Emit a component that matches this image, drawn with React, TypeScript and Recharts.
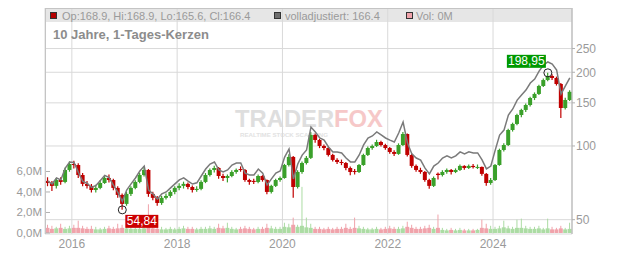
import React from 'react';
import { ComposedChart, Bar, Line, XAxis, YAxis, CartesianGrid, ReferenceDot } from 'recharts';

// Monthly candles, Jul 2015 .. Jun 2025
const startYear = 2015;
const startMonth = 7;

const opens = [
  72.0, 70.6, 68.7, 72.6, 71.3, 79.8,
  84.4, 83.6, 76.1, 70.0, 68.7, 66.1, 67.4, 70.6, 74.0, 72.6, 67.4, 63.1,
  58.0, 63.7, 67.4, 71.3, 76.1, 79.8, 63.7, 61.4, 58.5, 61.4, 62.5, 64.9,
  67.4, 68.7, 70.0, 68.0, 66.1, 66.8, 71.3, 76.1, 79.8, 81.3, 75.4, 74.0,
  75.4, 78.3, 80.5, 79.8, 72.6, 72.0, 71.3, 75.4, 72.6, 64.9, 68.7, 72.6,
  74.0, 83.6, 90.2, 68.0, 78.3, 85.2, 89.4, 110.9, 105.8, 100.0, 98.1, 91.9,
  87.7, 86.0, 85.2, 81.3, 79.0, 78.3, 83.6, 91.9, 98.1, 100.0, 103.8, 100.9,
  98.1, 94.5, 92.8, 100.9, 111.9, 91.9, 82.9, 79.8, 78.3, 72.6, 68.7, 77.0,
  76.1, 78.3, 79.8, 78.3, 79.8, 82.9, 81.3, 82.9, 82.0, 82.1, 76.9, 70.6,
  72.6, 83.6, 96.3, 100.9, 116.2, 123.0, 133.8, 140.3, 147.0, 157.0, 163.1, 175.8,
  185.9, 193.1, 189.5, 179.1, 142.9, 154.1,
];
const highs = [
  74.5, 72.0, 74.0, 74.5, 81.5, 86.5,
  87.0, 85.0, 77.5, 72.0, 70.0, 69.5, 72.5, 76.0, 76.5, 73.5, 68.5, 64.0,
  65.0, 68.5, 72.5, 77.5, 82.9, 80.5, 65.0, 62.5, 62.5, 64.0, 66.0, 68.5,
  70.5, 71.5, 71.0, 69.0, 68.5, 72.5, 77.5, 81.0, 83.0, 82.0, 77.0, 76.5,
  79.5, 81.0, 82.5, 80.5, 73.5, 73.5, 76.5, 76.0, 73.0, 69.5, 73.5, 75.0,
  84.5, 92.5, 91.0, 79.5, 86.5, 91.0, 114.1, 112.5, 107.0, 101.5, 99.0, 93.0,
  89.0, 88.0, 86.0, 82.5, 80.5, 84.5, 93.0, 99.5, 101.5, 106.0, 105.0, 102.0,
  99.0, 96.0, 102.5, 114.0, 112.5, 93.0, 84.0, 81.5, 79.0, 73.5, 75.0, 78.0,
  79.5, 81.0, 80.5, 81.0, 84.0, 83.5, 84.0, 84.5, 84.0, 82.5, 77.5, 74.0,
  84.5, 97.5, 102.5, 117.5, 124.5, 135.5, 142.0, 149.0, 159.0, 165.5, 178.0, 188.5,
  198.95, 196.5, 192.0, 181.0, 157.5, 168.9,
];
const lows = [
  68.5, 65.5, 67.0, 69.5, 70.5, 78.5,
  81.0, 74.0, 68.5, 67.0, 64.5, 64.5, 66.5, 70.0, 71.0, 66.0, 61.5, 54.84,
  57.0, 62.5, 66.5, 70.5, 75.0, 62.0, 60.0, 57.0, 57.5, 60.5, 61.5, 63.5,
  66.0, 67.0, 66.5, 64.5, 65.0, 66.0, 70.5, 75.0, 78.0, 73.5, 72.0, 71.0,
  74.5, 77.0, 78.5, 71.5, 69.5, 70.0, 70.5, 71.5, 63.5, 64.0, 68.0, 71.5,
  73.5, 82.5, 61.4, 67.0, 77.0, 84.0, 88.5, 103.0, 98.0, 96.0, 90.5, 86.5,
  84.5, 83.5, 79.5, 76.0, 76.5, 77.5, 83.0, 91.0, 96.5, 99.0, 99.5, 96.5,
  93.0, 91.0, 92.0, 100.0, 90.5, 81.5, 78.5, 77.0, 71.5, 66.8, 68.0, 73.0,
  75.0, 77.0, 76.5, 77.5, 79.0, 80.0, 80.5, 81.0, 80.5, 75.5, 68.8, 69.5,
  72.0, 83.0, 95.0, 100.0, 114.5, 121.5, 131.0, 137.5, 145.0, 154.0, 161.5, 174.0,
  184.0, 186.0, 176.5, 130.1, 141.0, 152.5,
];
const closes = [
  70.6, 68.7, 72.6, 71.3, 79.8, 84.4,
  83.6, 76.1, 70.0, 68.7, 66.1, 67.4, 70.6, 74.0, 72.6, 67.4, 63.1, 58.0,
  63.7, 67.4, 71.3, 76.1, 79.8, 63.7, 61.4, 58.5, 61.4, 62.5, 64.9, 67.4,
  68.7, 70.0, 68.0, 66.1, 66.8, 71.3, 76.1, 79.8, 81.3, 75.4, 74.0, 75.4,
  78.3, 79.8, 79.8, 72.6, 71.3, 71.3, 75.4, 72.6, 64.9, 68.7, 72.6, 74.0,
  83.6, 90.2, 68.0, 78.3, 85.2, 89.4, 110.9, 105.8, 100.0, 98.1, 91.9, 87.7,
  86.0, 85.2, 81.3, 78.3, 78.3, 83.6, 91.9, 98.1, 100.0, 103.8, 100.9, 98.1,
  94.5, 92.8, 100.9, 111.9, 91.9, 82.9, 79.8, 78.3, 72.6, 68.7, 74.0, 76.1,
  78.3, 79.8, 78.3, 79.8, 82.9, 81.3, 82.9, 82.0, 82.1, 76.9, 70.6, 72.6,
  83.6, 96.3, 100.9, 116.2, 123.0, 133.8, 140.3, 147.0, 157.0, 163.1, 175.8, 185.9,
  193.1, 189.5, 179.1, 142.9, 154.1, 166.4,
];
const adjusted = [
  71.9, 70.0, 74.0, 72.7, 81.3, 86.0,
  85.6, 77.9, 71.7, 70.3, 67.7, 69.0, 72.3, 75.8, 74.3, 69.0, 64.6, 59.4,
  66.1, 70.0, 74.0, 79.0, 82.8, 66.1, 63.7, 60.7, 63.7, 64.9, 67.4, 70.0,
  72.7, 74.1, 71.9, 69.9, 70.7, 75.4, 80.5, 84.4, 86.0, 79.8, 78.3, 79.8,
  83.6, 85.2, 85.2, 77.5, 76.1, 76.1, 80.5, 77.5, 69.3, 73.4, 77.5, 79.0,
  90.1, 97.2, 73.3, 84.4, 91.8, 96.4, 119.5, 114.1, 107.8, 105.8, 99.1, 94.5,
  94.5, 93.6, 89.3, 86.1, 86.1, 91.9, 101.0, 107.8, 109.9, 114.1, 110.9, 107.8,
  105.7, 103.8, 112.9, 125.2, 102.8, 92.8, 89.3, 87.6, 81.2, 76.9, 82.8, 85.2,
  89.3, 91.1, 89.3, 91.1, 94.6, 92.8, 94.6, 93.6, 93.7, 87.7, 80.6, 82.8,
  96.2, 110.8, 116.1, 133.7, 141.6, 154.0, 161.5, 169.2, 180.7, 187.7, 202.3, 214.0,
  220.3, 216.2, 204.4, 163.1, 175.8, 189.9,
];
// volume in millions: highest day of the month and typical day
const volMax = [
  0.8, 0.7, 0.6, 0.9, 0.6, 0.7,
  0.8, 1.2, 0.7, 0.6, 0.7, 0.6, 0.5, 0.6, 0.7, 0.6, 0.9, 0.8,
  0.7, 0.6, 0.6, 0.6, 0.7, 2.8, 0.7, 0.6, 0.6, 0.5, 0.6, 0.5,
  0.6, 0.7, 0.6, 0.6, 0.5, 0.6, 0.6, 0.7, 0.6, 0.9, 0.7, 1.0,
  0.6, 0.5, 0.6, 0.7, 0.6, 0.5, 0.6, 0.6, 0.9, 0.7, 0.6, 0.6,
  1.0, 0.9, 1.5, 0.8, 4.5, 1.5, 0.9, 0.6, 0.6, 0.5, 0.6, 0.5,
  0.6, 0.6, 0.9, 0.6, 1.5, 0.7, 0.6, 0.5, 0.5, 0.6, 0.5, 0.6,
  0.7, 0.6, 0.6, 0.7, 1.1, 0.8, 0.6, 0.6, 0.7, 0.8, 0.6, 1.8,
  0.5, 0.4, 0.5, 0.4, 0.5, 0.4, 0.4, 0.4, 0.4, 1.3, 0.9, 0.7,
  0.6, 0.7, 1.2, 0.7, 0.6, 1.3, 1.4, 0.7, 0.6, 0.6, 0.7, 0.5,
  1.4, 0.6, 0.5, 0.7, 0.5, 1.0,
];
const volBase = [
  0.5, 0.4, 0.45, 0.5, 0.4, 0.45,
  0.5, 0.5, 0.45, 0.4, 0.4, 0.35, 0.35, 0.4, 0.45, 0.4, 0.45, 0.5,
  0.45, 0.4, 0.4, 0.4, 0.45, 0.6, 0.45, 0.4, 0.35, 0.35, 0.4, 0.35,
  0.4, 0.45, 0.4, 0.4, 0.35, 0.4, 0.4, 0.45, 0.4, 0.5, 0.45, 0.5,
  0.4, 0.35, 0.4, 0.45, 0.4, 0.35, 0.4, 0.4, 0.5, 0.45, 0.4, 0.4,
  0.6, 0.55, 0.8, 0.6, 0.7, 0.55, 0.5, 0.4, 0.4, 0.35, 0.4, 0.35,
  0.4, 0.4, 0.5, 0.4, 0.5, 0.45, 0.4, 0.35, 0.35, 0.4, 0.35, 0.4,
  0.45, 0.4, 0.4, 0.45, 0.6, 0.5, 0.4, 0.4, 0.45, 0.5, 0.4, 0.5,
  0.3, 0.25, 0.3, 0.25, 0.3, 0.25, 0.25, 0.25, 0.3, 0.5, 0.45, 0.4,
  0.4, 0.45, 0.55, 0.45, 0.4, 0.5, 0.5, 0.45, 0.4, 0.4, 0.45, 0.35,
  0.45, 0.35, 0.35, 0.45, 0.35, 0.4,
];

const xTicks = [2016, 2018, 2020, 2022, 2024];
const priceTicks = [50, 100, 150, 200, 250];
const volTicks = [0, 2, 4, 6];

const RED = '#c00000';
const GREEN = '#3aa02a';
const VRED = '#f0a3ab';
const VGREEN = '#acdca4';

const data = closes.map((c, i) => ({
  t: startYear + (startMonth - 1 + i + 0.5) / 12,
  o: opens[i],
  h: highs[i],
  l: lows[i],
  c,
  adj: adjusted[i],
  range: [lows[i], highs[i]],
  vmax: volMax[i],
  vbase: volBase[i],
  up: c >= opens[i],
}));

let minIdx = 0;
let maxIdx = 0;
lows.forEach((v, i) => { if (v < lows[minIdx]) minIdx = i; });
highs.forEach((v, i) => { if (v > highs[maxIdx]) maxIdx = i; });
const fmtNum = (v: number) => v.toFixed(2).replace('.', ',');

const Candle = (props: any) => {
  const { x, y, width, height, payload } = props;
  if (!payload || height == null || isNaN(y)) return null;
  const top = Math.min(y, y + height);
  const hh = Math.abs(height);
  const { o, h, l, c } = payload;
  const lh = Math.log(h);
  const ll = Math.log(l);
  const yAt = (v: number) => top + (hh * (lh - Math.log(v))) / (lh - ll);
  const col = c >= o ? GREEN : RED;
  const cx = x + width / 2;
  const b1 = Math.min(yAt(o), yAt(c));
  const b2 = Math.max(yAt(o), yAt(c));
  return (
    <g>
      <line x1={cx} x2={cx} y1={top} y2={top + hh} stroke={col} strokeWidth={1.2} />
      <rect x={x} y={b1} width={width} height={Math.max(1, b2 - b1)} fill={col} />
    </g>
  );
};

const VolBar = (props: any) => {
  const { x, y, width, height, payload } = props;
  if (!payload || height == null || isNaN(y)) return null;
  const top = Math.min(y, y + height);
  const hh = Math.abs(height);
  const bottom = top + hh;
  const col = payload.up ? VGREEN : VRED;
  const baseH = (hh * payload.vbase) / payload.vmax;
  return (
    <g>
      <rect x={x} y={bottom - baseH} width={width} height={baseH} fill={col} />
      <rect x={x + width / 2 - 0.5} y={top} width={1} height={hh} fill={col} />
    </g>
  );
};

const LeftTick = (props: any) => {
  const { x, y, payload } = props;
  return (
    <g>
      <line x1={x + 3} x2={x + 8} y1={y} y2={y} stroke="#b0b0b0" />
      <text x={x} y={y} dy={4} textAnchor="end" fontSize={11.5} fill="#9a9a9a">
        {`${Number(payload.value).toFixed(1).replace('.', ',')}M`}
      </text>
    </g>
  );
};

const LowMarker = (props: any) => {
  const { cx, cy } = props;
  const label = fmtNum(lows[minIdx]);
  return (
    <g>
      <circle cx={cx} cy={cy} r={4} fill="none" stroke="#222" strokeWidth={1} />
      <rect x={cx + 3} y={cy + 5} width={33} height={13} fill="#cc0000" />
      <text x={cx + 19.5} y={cy + 15.5} textAnchor="middle" fontSize={12} fill="#fff">{label}</text>
    </g>
  );
};

const HighMarker = (props: any) => {
  const { cx, cy } = props;
  const label = fmtNum(highs[maxIdx]);
  return (
    <g>
      <circle cx={cx} cy={cy} r={4} fill="none" stroke="#222" strokeWidth={1} />
      <rect x={cx - 41} y={cy - 18} width={39} height={13} fill="#009900" />
      <text x={cx - 21.5} y={cy - 7.5} textAnchor="middle" fontSize={12} fill="#fff">{label}</text>
    </g>
  );
};

const legendText: React.CSSProperties = {
  position: 'absolute',
  top: 1,
  fontSize: 11,
  lineHeight: '14px',
  color: '#9a9a9a',
  whiteSpace: 'nowrap',
};
const sq = (bg: string, left: number): React.CSSProperties => ({
  position: 'absolute',
  left,
  top: 4,
  width: 5,
  height: 5,
  background: bg,
  border: '1px solid #333',
});

export default function App() {
  return (
    <div style={{ position: 'relative', width: 624, height: 245, fontFamily: '"Liberation Sans", Arial, sans-serif' }}>
      <div style={{ position: 'absolute', left: 37, top: 0, width: 527, height: 14, background: '#e6e6e6' }} />
      <svg width={624} height={245} style={{ position: 'absolute', left: 0, top: 0 }}>
        <text x={227} y={118.5} fontSize={24} fontWeight="bold" textLength={148} lengthAdjust="spacingAndGlyphs">
          <tspan fill="#dedede">TRADER</tspan>
          <tspan fill="#f6c8c8">FOX</tspan>
        </text>
        <text x={232} y={129} fontSize={5} fontWeight="bold" fill="#e2e2e2" textLength={88} lengthAdjust="spacingAndGlyphs">
          REALTIME STOCK SCANNING
        </text>
      </svg>
      <div style={{ position: 'absolute', left: 0, top: 0 }}>
        <ComposedChart width={624} height={245} data={data} margin={{ top: 0, right: 0, bottom: 0, left: 0 }}>
          <XAxis
            xAxisId="main"
            dataKey="t"
            type="number"
            domain={[2015.49, 2025.5]}
            allowDataOverflow
            ticks={xTicks}
            interval={0}
            tickFormatter={(v: number) => String(v)}
            axisLine={false}
            tickLine={false}
            tickSize={0}
            tickMargin={5}
            height={19}
            tick={{ fontSize: 12, fill: '#9a9a9a' }}
          />
          <XAxis xAxisId="vol" dataKey="t" type="number" domain={[2015.49, 2025.5]} allowDataOverflow hide />
          <YAxis
            yAxisId="vol"
            orientation="left"
            width={37}
            domain={[-0.1, 21.95]}
            allowDataOverflow
            ticks={volTicks}
            interval={0}
            axisLine={false}
            tickLine={false}
            tickSize={0}
            tickMargin={3}
            tick={<LeftTick />}
          />
          <YAxis
            yAxisId="price"
            orientation="right"
            width={60}
            scale="log"
            domain={[43.7, 366]}
            allowDataOverflow
            ticks={priceTicks}
            interval={0}
            axisLine={{ stroke: '#b0b0b0' }}
            tickLine={{ stroke: '#b0b0b0' }}
            tickSize={3}
            tickMargin={1}
            tick={{ fontSize: 12, fill: '#9a9a9a', textAnchor: 'start' }}
          />
          <CartesianGrid xAxisId="main" yAxisId="price" stroke="#d9d9d9" />
          <Bar xAxisId="vol" yAxisId="vol" dataKey="vmax" barSize={4.4} shape={<VolBar />} isAnimationActive={false} />
          <Line
            xAxisId="main"
            yAxisId="price"
            dataKey="adj"
            type="linear"
            stroke="#7a7a7a"
            strokeWidth={1.5}
            dot={false}
            activeDot={false}
            isAnimationActive={false}
          />
          <Bar xAxisId="main" yAxisId="price" dataKey="range" barSize={4} shape={<Candle />} isAnimationActive={false} />
          <ReferenceDot
            xAxisId="main"
            yAxisId="price"
            x={data[minIdx].t}
            y={lows[minIdx]}
            r={4}
            shape={(p: any) => <LowMarker {...p} />}
          />
          <ReferenceDot
            xAxisId="main"
            yAxisId="price"
            x={data[maxIdx].t}
            y={highs[maxIdx]}
            r={4}
            shape={(p: any) => <HighMarker {...p} />}
          />
        </ComposedChart>
      </div>
      <div style={{ position: 'absolute', left: 37, top: 0, width: 527, height: 1, background: '#c4c4c4' }} />
      <div style={{ position: 'absolute', left: 37, top: 0, width: 1, height: 226, background: '#c4c4c4' }} />
      <div style={sq('#b40000', 42)} />
      <span style={{ ...legendText, left: 54 }}>Op:168.9, Hi:168.9, Lo:165.6, Cl:166.4</span>
      <div style={sq('#6e6e6e', 266)} />
      <span style={{ ...legendText, left: 277 }}>volladjustiert: 166.4</span>
      <div style={sq('#f0a3ab', 398)} />
      <span style={{ ...legendText, left: 408 }}>Vol: 0M</span>
      <div
        style={{
          position: 'absolute',
          left: 45,
          top: 19,
          fontSize: 13,
          lineHeight: '16px',
          fontWeight: 'bold',
          color: '#8c8c8c',
          whiteSpace: 'nowrap',
        }}
      >
        10 Jahre, 1-Tages-Kerzen
      </div>
    </div>
  );
}
